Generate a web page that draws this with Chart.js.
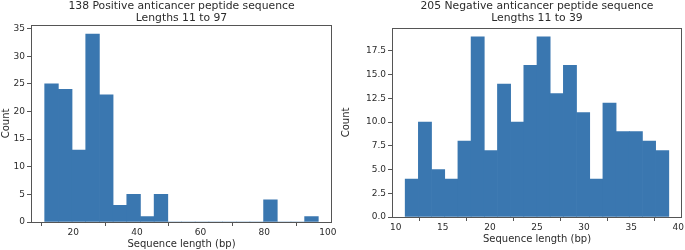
<!DOCTYPE html>
<html>
<head>
<meta charset="utf-8">
<script src="https://cdn.jsdelivr.net/npm/chart.js@4/dist/chart.umd.min.js"></script>
<style>
  html, body { margin: 0; padding: 0; background: #fff; }
  .wrap { position: relative; width: 685px; height: 250px; overflow: hidden; }
  .panel { position: absolute; top: 0; height: 250px; }
</style>
</head>
<body>
<div class="wrap">
  <div class="panel" style="left:0;width:340px"><canvas id="pos-chart"></canvas></div>
  <div class="panel" style="left:340px;width:345px"><canvas id="neg-chart"></canvas></div>
</div>
<script>
// ---- data: positive set (20 bins, lengths 11..97) ----
const posCenters = [13.15, 17.45, 21.75, 26.05, 30.35, 34.65, 38.95, 43.25, 47.55, 51.85,
                    56.15, 60.45, 64.75, 69.05, 73.35, 77.65, 81.95, 86.25, 90.55, 94.85];
const posCounts = [25, 24, 13, 34, 23, 3, 5, 1, 5, 0, 0, 0, 0, 0, 0, 0, 4, 0, 0, 1];
const posTitle = ['138 Positive anticancer peptide sequence', 'Lengths 11 to 97'];

// ---- data: negative set (20 bins, lengths 11..39) ----
const negCenters = [11.7, 13.1, 14.5, 15.9, 17.3, 18.7, 20.1, 21.5, 22.9, 24.3,
                    25.7, 27.1, 28.5, 29.9, 31.3, 32.7, 34.1, 35.5, 36.9, 38.3];
const negCounts = [4, 10, 5, 4, 8, 19, 7, 14, 10, 16, 19, 13, 16, 11, 4, 12, 9, 9, 8, 7];
const negTitle = ['205 Negative anticancer peptide sequence', 'Lengths 11 to 39'];

const xLabel = 'Sequence length (bp)';
const yLabel = 'Count';

const BAR = '#3a77b0';
const TXT = '#2b2b2b';
const AXIS = '#555';
const FONT = 'DejaVu Sans';

// box around the plot area, like matplotlib spines
const frame = {
  id: 'frame',
  afterDatasetsDraw(chart) {
    const a = chart.chartArea, c = chart.ctx;
    c.save();
    c.strokeStyle = AXIS;
    c.lineWidth = 1;
    c.strokeRect(Math.round(a.left) + 0.5, Math.round(a.top) + 0.5,
                 Math.round(a.right - a.left) - 1, Math.round(a.bottom - a.top));
    c.restore();
  }
};

function histChart(id, cfg) {
  const data = cfg.centers.map((x, i) => ({ x, y: cfg.counts[i] }));
  return new Chart(document.getElementById(id), {
    type: 'bar',
    data: {
      datasets: [{
        data,
        backgroundColor: BAR,
        borderWidth: 0,
        barPercentage: 1,
        categoryPercentage: 1,
      }],
    },
    options: {
      responsive: true,
      maintainAspectRatio: false,
      animation: false,
      layout: { padding: { top: 0, right: cfg.padRight, bottom: 0, left: 0 } },
      plugins: {
        legend: { display: false },
        tooltip: { enabled: false },
        title: {
          display: true,
          fullSize: false,
          text: cfg.title,
          color: TXT,
          font: { family: FONT, size: 10.8, weight: 'normal', lineHeight: 1.1 },
          padding: { top: 0, bottom: cfg.titleGap },
        },
      },
      scales: {
        x: {
          type: 'linear',
          min: cfg.xMin,
          max: cfg.xMax,
          offset: false,
          afterFit: (s) => { s.height = cfg.xHeight; },
          grid: { drawOnChartArea: false, drawTicks: true, tickLength: 4, color: AXIS },
          border: { display: false },
          ticks: {
            stepSize: cfg.xStep,
            includeBounds: false,
            color: TXT,
            padding: 1,
            maxRotation: 0,
            font: { family: FONT, size: 9 },
          },
          title: {
            display: true,
            text: xLabel,
            color: TXT,
            font: { family: FONT, size: 10 },
            padding: { top: 0, bottom: cfg.xTitlePad },
          },
        },
        y: {
          min: 0,
          max: cfg.yMax,
          afterFit: (s) => { s.width = cfg.yWidth; },
          grid: { drawOnChartArea: false, drawTicks: true, tickLength: 4, color: AXIS },
          border: { display: false },
          ticks: {
            stepSize: cfg.yStep,
            includeBounds: false,
            color: TXT,
            padding: 2,
            font: { family: FONT, size: 9 },
            callback: cfg.yFmt,
          },
          title: {
            display: true,
            text: yLabel,
            color: TXT,
            font: { family: FONT, size: 10 },
            padding: 0,
          },
        },
      },
    },
    plugins: [frame],
  });
}

histChart('pos-chart', {
  centers: posCenters, counts: posCounts, title: posTitle,
  xMin: 6.7, xMax: 101.3, xStep: 20, yMax: 35.7, yStep: 5,
  yFmt: (v) => v,
  yWidth: 31, xHeight: 28, xTitlePad: 0, padRight: 8, titleGap: 1,
});

histChart('neg-chart', {
  centers: negCenters, counts: negCounts, title: negTitle,
  xMin: 9.6, xMax: 40.4, xStep: 5, yMax: 19.95, yStep: 2.5,
  yFmt: (v) => v.toFixed(1),
  yWidth: 52, xHeight: 33, xTitlePad: 5, padRight: 2, titleGap: 4,
});
</script>
</body>
</html>
